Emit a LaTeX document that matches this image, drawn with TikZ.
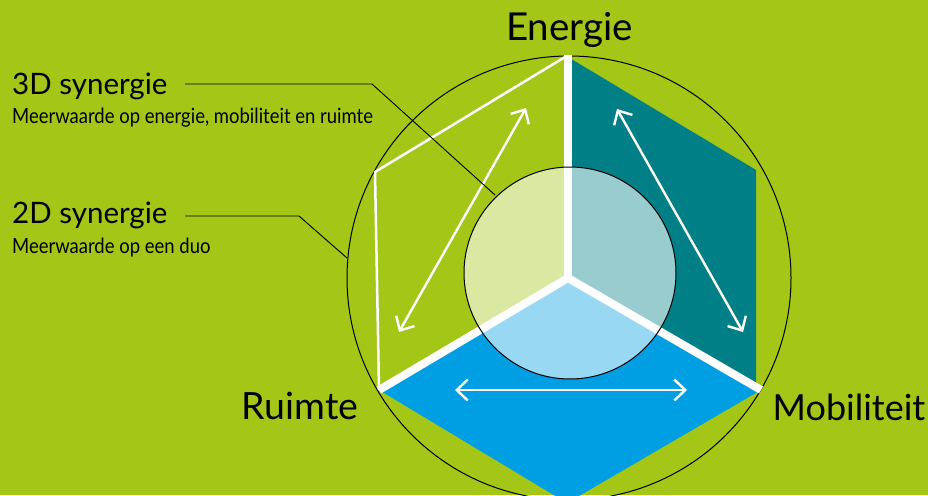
\documentclass[tikz,border=0pt]{standalone}
\usepackage{fontspec}
\setmainfont{Lato}
\newfontfamily\narrowfont[FakeStretch=0.88]{Lato}
\usetikzlibrary{arrows.meta}
\definecolor{bggreen}{RGB}{163,198,23}
\definecolor{tealc}{RGB}{0,128,134}
\definecolor{bluec}{RGB}{0,159,227}
\tikzset{
  bigtxt/.style={font=\fontsize{36}{40}\selectfont, text=black, inner sep=0pt},
  headtxt/.style={font=\fontsize{29.5}{32}\selectfont, text=black, inner sep=0pt, anchor=base west},
  subtxt/.style={font=\narrowfont\fontsize{21}{24}\selectfont, text=black, inner sep=0pt, anchor=base west},
  leader/.style={draw=black, line width=0.9pt},
  whitearrow/.style={draw=white, line width=2.4pt, {Straight Barb[length=11pt,width=21pt]}-{Straight Barb[length=11pt,width=21pt]}},
  spoke/.style={draw=white, line width=8pt},
}
\begin{document}
\begin{tikzpicture}[x=1pt,y=-1pt]
\fill[bggreen] (0,0) rectangle (928,495);
\useasboundingbox (0,0) rectangle (928,495);
% key points
\coordinate (O) at (568,278);
\coordinate (T) at (568,55);
\coordinate (LL) at (379,390);
\coordinate (LR) at (761,390);
\coordinate (B) at (567,503);
% faces
\fill[tealc] (O) -- (568,57) -- (756,170) -- (756,386) -- cycle;
\fill[bluec] (O) -- (LL) -- (B) -- (LR) -- cycle;
% outer circle
\draw[black, line width=1pt] (569,278) circle[radius=222];
% left outline
\draw[white, line width=2.5pt, line join=miter] (565,57) -- (375,172) -- (LL);
% spokes
\draw[spoke] (O) -- (T);
\draw[spoke] (O) -- (LL);
\draw[spoke] (O) -- (LR);
% arrows
\coordinate (a1) at (526,108); \coordinate (a2) at (399,332);
\coordinate (b1) at (617,109); \coordinate (b2) at (743,332);
\coordinate (c1) at (455,390); \coordinate (c2) at (687,390);
\draw[whitearrow] (a1) -- (a2);
\draw[whitearrow] (b1) -- (b2);
\draw[whitearrow] (c1) -- (c2);
% inner circle
\draw[black, line width=1pt, fill=white, fill opacity=0.6] (570,273) circle[radius=106];
% labels
\node[bigtxt, font=\fontsize{38.5}{42}\selectfont, anchor=base] (energie) at (569.5,41) {Energie};
\node[bigtxt, font=\fontsize{37.5}{42}\selectfont, anchor=base] (ruimte) at (300,419) {Ruimte};
\node[bigtxt, anchor=base] (mobiliteit) at (849,420) {Mobiliteit};
\node[headtxt] (syn3) at (12,94) {3D synergie};
\node[subtxt] (sub3) at (12,123) {Meerwaarde op energie, mobiliteit en ruimte};
\node[headtxt] (syn2) at (12,223) {2D synergie};
\node[subtxt] (sub2) at (12,253) {Meerwaarde op een duo};
% leaders
\coordinate (l3a) at (185,84); \coordinate (l3b) at (372,84); \coordinate (l3c) at (495,195);
\coordinate (l2a) at (185,216); \coordinate (l2b) at (299,216); \coordinate (l2c) at (347,258);
\draw[leader] (l3a) -- (l3b) -- (l3c);
\draw[leader] (l2a) -- (l2b) -- (l2c);
\end{tikzpicture}
\end{document}
